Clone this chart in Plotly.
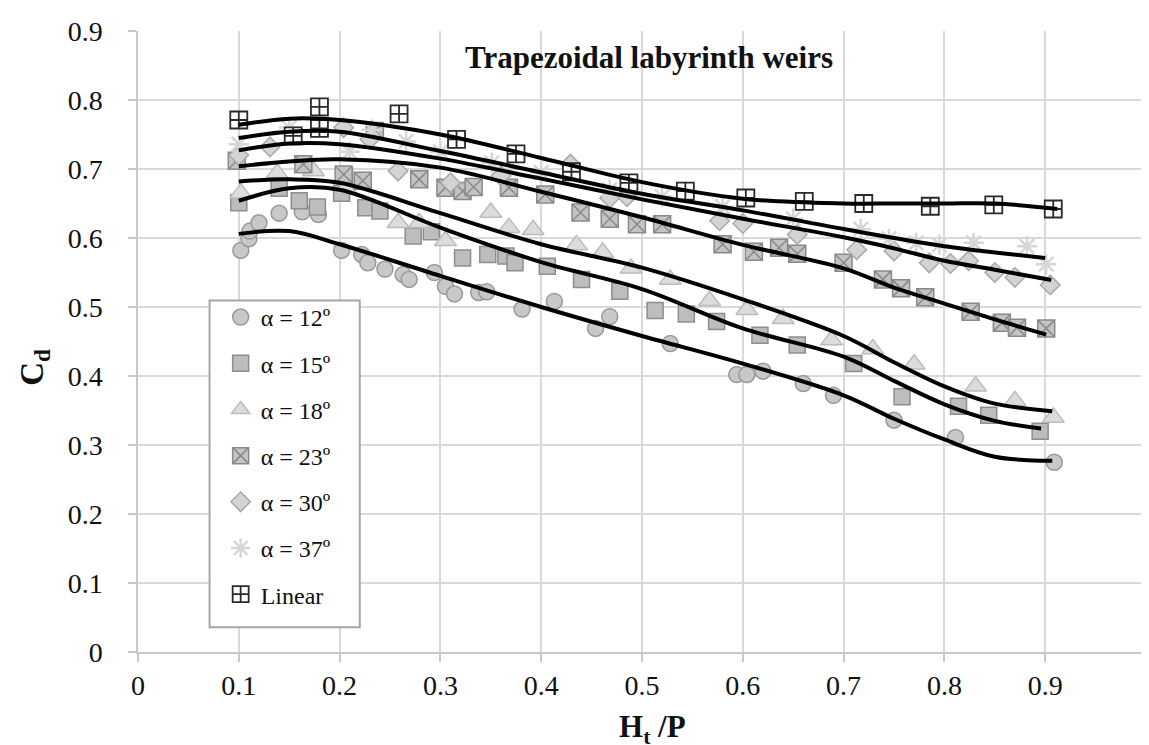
import plotly.graph_objects as go

# ---------------- data ----------------
x12 = [0.102, 0.110, 0.111, 0.120, 0.140, 0.163, 0.179, 0.202, 0.222, 0.228, 0.245, 0.263, 0.269, 0.294,
       0.305, 0.314, 0.338, 0.346, 0.381, 0.413, 0.454, 0.468, 0.528, 0.594, 0.604, 0.620, 0.660, 0.690,
       0.750, 0.811, 0.909]
y12 = [0.582, 0.599, 0.610, 0.622, 0.636, 0.638, 0.634, 0.582, 0.576, 0.564, 0.555, 0.547, 0.540, 0.550,
       0.530, 0.519, 0.521, 0.522, 0.497, 0.508, 0.469, 0.486, 0.447, 0.402, 0.402, 0.407, 0.389, 0.372,
       0.336, 0.311, 0.275]

x15 = [0.100, 0.140, 0.160, 0.178, 0.202, 0.205, 0.226, 0.240, 0.273, 0.291, 0.322, 0.347, 0.365, 0.374,
       0.406, 0.440, 0.478, 0.513, 0.544, 0.574, 0.617, 0.654, 0.710, 0.758, 0.814, 0.844, 0.895]
y15 = [0.651, 0.672, 0.654, 0.645, 0.665, 0.690, 0.644, 0.639, 0.603, 0.609, 0.571, 0.576, 0.574, 0.564,
       0.559, 0.540, 0.523, 0.495, 0.490, 0.479, 0.459, 0.445, 0.418, 0.370, 0.356, 0.343, 0.320]

x18 = [0.102, 0.138, 0.174, 0.206, 0.258, 0.279, 0.305, 0.350, 0.368, 0.392, 0.435, 0.461, 0.489, 0.528,
       0.567, 0.604, 0.640, 0.688, 0.729, 0.770, 0.831, 0.870, 0.908]
y18 = [0.665, 0.694, 0.697, 0.672, 0.622, 0.622, 0.596, 0.637, 0.615, 0.612, 0.590, 0.579, 0.556, 0.540,
       0.509, 0.496, 0.483, 0.452, 0.439, 0.417, 0.385, 0.364, 0.340]

x23 = [0.098, 0.164, 0.204, 0.223, 0.235, 0.279, 0.305, 0.322, 0.333, 0.368, 0.404, 0.439, 0.468, 0.495,
       0.520, 0.580, 0.611, 0.636, 0.654, 0.700, 0.739, 0.757, 0.781, 0.826, 0.857, 0.872, 0.901]
y23 = [0.712, 0.707, 0.692, 0.683, 0.755, 0.685, 0.673, 0.668, 0.674, 0.673, 0.663, 0.637, 0.628, 0.620,
       0.620, 0.591, 0.580, 0.586, 0.577, 0.564, 0.540, 0.527, 0.514, 0.493, 0.477, 0.470, 0.469]

x30 = [0.100, 0.131, 0.204, 0.230, 0.258, 0.310, 0.360, 0.429, 0.468, 0.485, 0.577, 0.600, 0.654, 0.713,
       0.750, 0.785, 0.806, 0.824, 0.850, 0.870, 0.905]
y30 = [0.720, 0.732, 0.760, 0.743, 0.697, 0.680, 0.690, 0.707, 0.658, 0.660, 0.625, 0.621, 0.605, 0.583,
       0.581, 0.564, 0.563, 0.567, 0.550, 0.543, 0.532]

x37 = [0.100, 0.150, 0.180, 0.210, 0.232, 0.266, 0.300, 0.351, 0.400, 0.468, 0.520, 0.580, 0.650, 0.717,
       0.745, 0.772, 0.795, 0.829, 0.882, 0.901]
y37 = [0.736, 0.760, 0.775, 0.725, 0.757, 0.740, 0.725, 0.709, 0.695, 0.670, 0.660, 0.645, 0.628, 0.613,
       0.599, 0.593, 0.590, 0.593, 0.588, 0.562]

xlin = [0.100, 0.154, 0.180, 0.180, 0.259, 0.316, 0.375, 0.430, 0.487, 0.543, 0.603, 0.661, 0.720, 0.786,
        0.849, 0.908]
ylin = [0.771, 0.748, 0.790, 0.759, 0.780, 0.743, 0.722, 0.696, 0.680, 0.668, 0.658, 0.653, 0.650, 0.646,
        0.648, 0.642]

# trend curves
fit_x_base = [0.10, 0.15, 0.20, 0.30, 0.40, 0.50, 0.60, 0.70, 0.75, 0.80, 0.85]
fit_lin_end, fit_lin = 0.912, [0.764, 0.773, 0.771, 0.750, 0.716, 0.681, 0.657, 0.650, 0.650, 0.650, 0.650, 0.642]
fit37_end, fit37 = 0.900, [0.745, 0.754, 0.754, 0.726, 0.695, 0.664, 0.640, 0.613, 0.600, 0.588, 0.579, 0.571]
fit30_end, fit30 = 0.906, [0.727, 0.737, 0.736, 0.715, 0.686, 0.656, 0.628, 0.601, 0.585, 0.567, 0.554, 0.539]
fit23_end, fit23 = 0.901, [0.704, 0.711, 0.714, 0.702, 0.667, 0.630, 0.590, 0.556, 0.528, 0.505, 0.482, 0.460]
fit18_end, fit18 = 0.907, [0.682, 0.685, 0.680, 0.636, 0.591, 0.557, 0.511, 0.458, 0.420, 0.385, 0.360, 0.349]
fit15_end, fit15 = 0.896, [0.654, 0.672, 0.670, 0.615, 0.565, 0.526, 0.469, 0.428, 0.393, 0.359, 0.335, 0.324]
fit12_end, fit12 = 0.907, [0.606, 0.610, 0.591, 0.545, 0.500, 0.458, 0.418, 0.372, 0.338, 0.308, 0.283, 0.277]

labels = ["α = 12º", "α = 15º", "α = 18º", "α = 23º", "α = 30º", "α = 37º", "Linear"]
x_ticks = [0, 0.1, 0.2, 0.3, 0.4, 0.5, 0.6, 0.7, 0.8, 0.9, 1]
y_ticks = [0, 0.1, 0.2, 0.3, 0.4, 0.5, 0.6, 0.7, 0.8, 0.9]

# ---------------- figure ----------------
FONT = "Liberation Serif, Times New Roman, serif"
fig = go.Figure()

styles = [
    (x12, y12, "circle", 16, "#c8c8c8", "#999999", 1.5),
    (x15, y15, "square", 16, "#bdbdbd", "#8e8e8e", 1.5),
    (x18, y18, "triangle-up", 19, "#dcdcdc", "#bcbcbc", 1.5),
    (x23, y23, "square-x", 17, "#c3c3c3", "#8a8a8a", 1.5),
    (x30, y30, "diamond", 15, "#d3d3d3", "#a9a9a9", 1.5),
    (x37, y37, "asterisk-open", 17, "#d6d6d6", "#cdcdcd", 2.5),
    (xlin, ylin, "square-cross", 17, "#ffffff", "#2a2a2a", 1.8),
]
for i, (xs, ys, sym, size, fill, line, lw) in enumerate(styles):
    fig.add_trace(go.Scatter(
        x=xs, y=ys, mode="markers", name=labels[i], legendgroup=str(i),
        marker=dict(symbol=sym, size=size, color=fill, line=dict(color=line, width=lw)),
    ))

fits = [(fit12_end, fit12), (fit15_end, fit15), (fit18_end, fit18), (fit23_end, fit23),
        (fit30_end, fit30), (fit37_end, fit37), (fit_lin_end, fit_lin)]
for end, ys in fits:
    fig.add_trace(go.Scatter(
        x=fit_x_base + [end], y=ys, mode="lines", showlegend=False, hoverinfo="skip",
        line=dict(color="black", width=4, shape="spline", smoothing=1.0),
    ))

axis_common = dict(
    showgrid=True, gridcolor="#d9d9d9", gridwidth=1.5,
    showline=True, linecolor="#c8c8c8", linewidth=1.5,
    ticks="outside", ticklen=8, tickcolor="#c8c8c8", tickwidth=1.5,
    tickfont=dict(family=FONT, size=28, color="#111111"),
    zeroline=False, mirror=False,
)
fig.update_xaxes(range=[0, 1], tickvals=x_ticks, ticktext=[f"{v:g}" for v in x_ticks],
                 ticklabelstandoff=0, ticklabeloverflow="allow", **axis_common)
fig.update_yaxes(range=[0, 0.9], tickvals=y_ticks, ticktext=[f"{v:g}" for v in y_ticks],
                 ticklabelstandoff=20, **axis_common)

fig.update_layout(
    width=1149, height=745,
    margin=dict(l=130, r=4, t=23, b=101),
    paper_bgcolor="white", plot_bgcolor="white",
    showlegend=True,
    legend=dict(
        x=0.082, y=0.575, xanchor="left", yanchor="top",
        bgcolor="rgba(0,0,0,0)", borderwidth=0,
        font=dict(family=FONT, size=24, color="#111111"),
        traceorder="grouped", tracegroupgap=12,
    ),
    shapes=[dict(type="rect", xref="paper", yref="paper",
                 x0=0.071, x1=0.220, y0=0.040, y1=0.566,
                 line=dict(color="#a6a6a6", width=2), fillcolor="white", layer="above")],
    annotations=[
        dict(text="<b>Trapezoidal labyrinth weirs</b>", x=0.507, y=0.862, xref="x", yref="y",
             xanchor="center", yanchor="middle",
             showarrow=False, font=dict(family=FONT, size=31, color="#111111")),
        dict(text="<b>C<sub>d</sub></b>", x=-0.103, y=0.458, xref="paper", yref="paper",
             xanchor="center", yanchor="middle",
             textangle=-90, showarrow=False, font=dict(family=FONT, size=33, color="#111111")),
        dict(text="<b>H<sub>t</sub> /P</b>", x=0.51, y=-0.124, xref="paper", yref="paper",
             xanchor="center", yanchor="middle",
             showarrow=False, font=dict(family=FONT, size=31, color="#111111")),
    ],
)

fig.write_html("out.html")
